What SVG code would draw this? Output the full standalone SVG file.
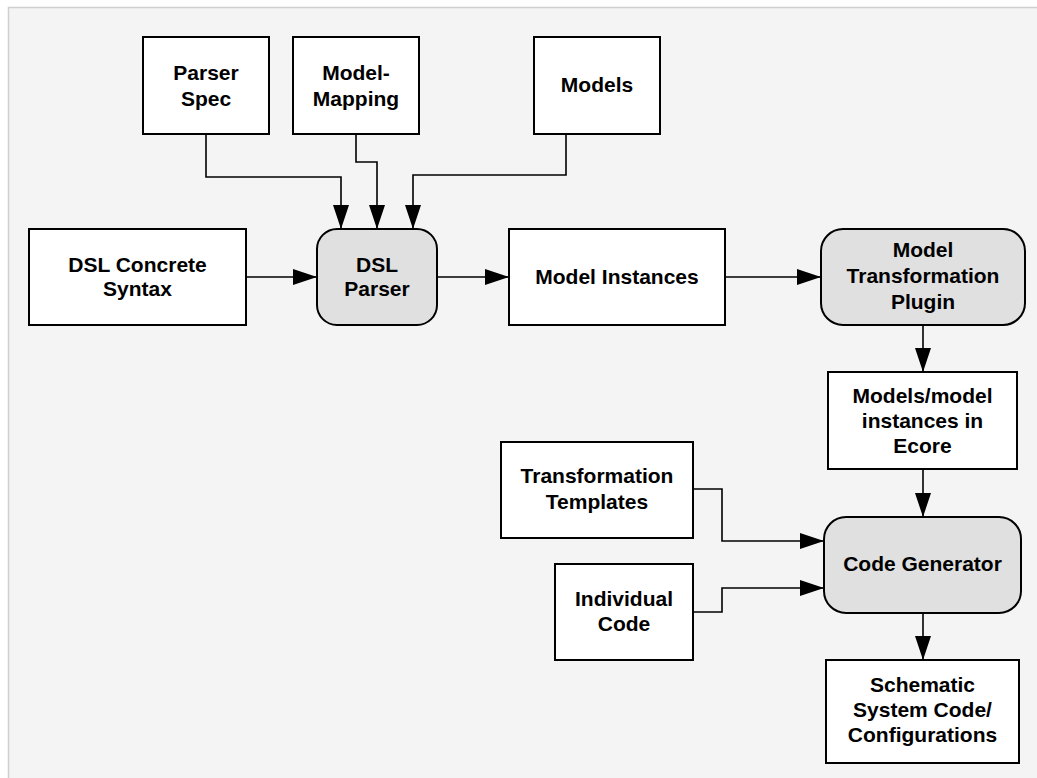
<svg xmlns="http://www.w3.org/2000/svg" width="1037" height="778" viewBox="0 0 1037 778">
  <defs>
    <marker id="arrow" markerUnits="userSpaceOnUse" markerWidth="24" markerHeight="16" refX="24" refY="8" orient="auto">
      <path d="M0,0 L24,8 L0,16 Z" fill="#000"/>
    </marker>
  </defs>
  <style>
    .box { fill: #ffffff; stroke: #000; stroke-width: 2; }
    .proc { fill: #e0e0e0; stroke: #000; stroke-width: 2; }
    .lbl { font-family: "Liberation Sans", Arial, sans-serif; font-size: 21px; font-weight: bold; fill: #000; text-anchor: middle; }
    .wire { fill: none; stroke: #000; stroke-width: 1.6; marker-end: url(#arrow); }
  </style>

  <!-- page -->
  <rect x="0" y="0" width="1037" height="778" fill="#ffffff"/>
  <rect x="8.5" y="7.5" width="1040" height="790" fill="#f4f4f4" stroke="#cfcfcf" stroke-width="1.5"/>

  <!-- connectors -->
  <g id="connectors">
    <path class="wire" d="M206,134 V177 H341 V229"/>
    <path class="wire" d="M356,134 V162 H377 V229"/>
    <path class="wire" d="M566,134 V175 H413 V229"/>
    <path class="wire" d="M246,277 H317"/>
    <path class="wire" d="M437,277 H509"/>
    <path class="wire" d="M725,277 H821"/>
    <path class="wire" d="M923,325 V372"/>
    <path class="wire" d="M923,469 V517"/>
    <path class="wire" d="M693,489 H722 V541 H824"/>
    <path class="wire" d="M693,612 H722 V588 H824"/>
    <path class="wire" d="M923,613 V660"/>
  </g>

  <g id="parser-spec">
    <rect class="box" x="143" y="37" width="126" height="97"/>
    <text class="lbl" x="206" y="80">Parser</text>
    <text class="lbl" x="206" y="106">Spec</text>
  </g>

  <g id="model-mapping">
    <rect class="box" x="293" y="37" width="126" height="97"/>
    <text class="lbl" x="356" y="80">Model-</text>
    <text class="lbl" x="356" y="106">Mapping</text>
  </g>

  <g id="models">
    <rect class="box" x="534" y="37" width="126" height="97"/>
    <text class="lbl" x="597" y="92">Models</text>
  </g>

  <g id="dsl-concrete-syntax">
    <rect class="box" x="29" y="229" width="217" height="96"/>
    <text class="lbl" x="137.5" y="272">DSL Concrete</text>
    <text class="lbl" x="137.5" y="296">Syntax</text>
  </g>

  <g id="dsl-parser">
    <rect class="proc" x="317" y="229" width="120" height="96" rx="20" ry="20"/>
    <text class="lbl" x="377" y="272">DSL</text>
    <text class="lbl" x="377" y="296">Parser</text>
  </g>

  <g id="model-instances">
    <rect class="box" x="509" y="229" width="216" height="96"/>
    <text class="lbl" x="617" y="284">Model Instances</text>
  </g>

  <g id="model-transformation-plugin">
    <rect class="proc" x="821" y="229" width="204" height="96" rx="22" ry="22"/>
    <text class="lbl" x="923" y="257">Model</text>
    <text class="lbl" x="923" y="283">Transformation</text>
    <text class="lbl" x="923" y="309">Plugin</text>
  </g>

  <g id="ecore-models">
    <rect class="box" x="828" y="372" width="189" height="97"/>
    <text class="lbl" x="922.5" y="403">Models/model</text>
    <text class="lbl" x="922.5" y="428">instances in</text>
    <text class="lbl" x="922.5" y="453">Ecore</text>
  </g>

  <g id="transformation-templates">
    <rect class="box" x="501" y="442" width="192" height="96"/>
    <text class="lbl" x="597" y="483">Transformation</text>
    <text class="lbl" x="597" y="509">Templates</text>
  </g>

  <g id="individual-code">
    <rect class="box" x="555" y="564" width="138" height="96"/>
    <text class="lbl" x="624" y="606">Individual</text>
    <text class="lbl" x="624" y="631">Code</text>
  </g>

  <g id="code-generator">
    <rect class="proc" x="824" y="517" width="197" height="96" rx="22" ry="22"/>
    <text class="lbl" x="922.5" y="571">Code Generator</text>
  </g>

  <g id="schematic-system-code">
    <rect class="box" x="826" y="660" width="193" height="103"/>
    <text class="lbl" x="922.5" y="692">Schematic</text>
    <text class="lbl" x="922.5" y="717">System Code/</text>
    <text class="lbl" x="922.5" y="742">Configurations</text>
  </g>
</svg>
